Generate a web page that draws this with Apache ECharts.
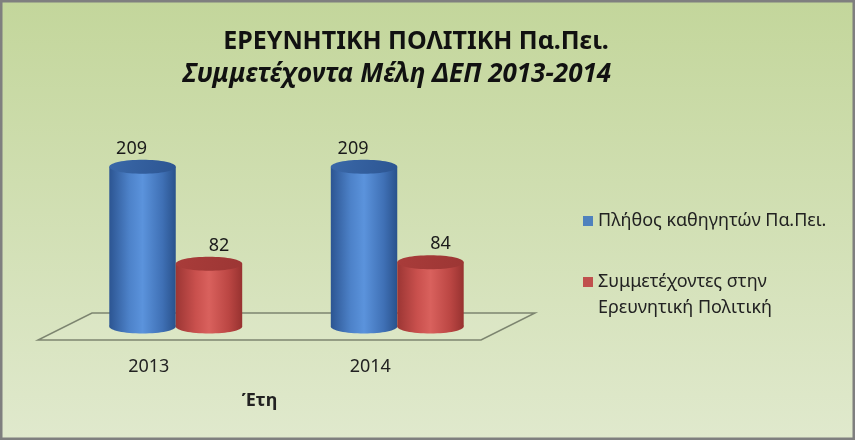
<!DOCTYPE html>
<html>
<head>
<meta charset="utf-8">
<script src="https://cdn.jsdelivr.net/npm/echarts@6/dist/echarts.min.js"></script>
<style>
html,body{margin:0;padding:0;background:#7f7f7f;}
#c{width:855px;height:440px;}
</style>
</head>
<body>
<div id="c"></div>
<script>
const categories = ['2013', '2014'];
const seriesNames = ['Πλήθος καθηγητών Πα.Πει.', 'Συμμετέχοντες στην Ερευνητική Πολιτική'];
const professors = [209, 209];
const participants = [82, 84];
const titleLine1 = 'ΕΡΕΥΝΗΤΙΚΗ ΠΟΛΙΤΙΚΗ Πα.Πει.';
const titleLine2 = 'Συμμετέχοντα Μέλη ΔΕΠ 2013-2014';
const axisName = 'Έτη';

const FONT = '"Noto Sans", "DejaVu Sans", sans-serif';
const DEPTH_X = 54, DEPTH_Y = 27;

const palettes = [
  {side: ['#2c5592', '#4d82c9', '#5b93dc', '#3f70b5', '#29528c'], top: '#3a68a8', label: -11},
  {side: ['#9c3634', '#c9504d', '#d9615d', '#bb4643', '#973230'], top: '#a93c3a', label: 10}
];

function sideGrad(p) {
  return new echarts.graphic.LinearGradient(0, 0, 1, 0, [
    {offset: 0, color: p.side[0]},
    {offset: 0.3, color: p.side[1]},
    {offset: 0.5, color: p.side[2]},
    {offset: 0.8, color: p.side[3]},
    {offset: 1, color: p.side[4]}
  ]);
}

function cylinder(params, api) {
  const cat = api.value(0), val = api.value(1);
  const base = api.coord([cat, 0]);
  const top = api.coord([cat, val]);
  const band = api.size([1, 0])[0];
  const w = band * 0.3;
  const p = palettes[params.seriesIndex - 1];
  const dir = params.seriesIndex === 1 ? -1 : 1;
  const cx = base[0] + DEPTH_X / 2 + dir * w / 2;
  const yb = base[1] - DEPTH_Y / 2;
  const yt = top[1] - DEPTH_Y / 2;
  const ry = 7;
  const g = sideGrad(p);
  return {
    type: 'group',
    children: [
      {type: 'ellipse', shape: {cx: cx, cy: yb, rx: w / 2, ry: ry}, style: {fill: g}},
      {type: 'rect', shape: {x: cx - w / 2, y: yt, width: w, height: yb - yt}, style: {fill: g}},
      {type: 'ellipse', shape: {cx: cx, cy: yt, rx: w / 2, ry: ry},
        style: {fill: new echarts.graphic.LinearGradient(0, 0, 1, 1, [
          {offset: 0, color: p.top}, {offset: 1, color: p.side[0]}])}},
      {type: 'text', x: cx + p.label, y: yt - ry - 11,
        style: {text: String(val), fill: '#1a1a1a', font: '18px ' + FONT, align: 'center', verticalAlign: 'middle'}}
    ]
  };
}

function floor(params, api) {
  const cs = params.coordSys;
  const x0 = cs.x, x1 = cs.x + cs.width, y = cs.y + cs.height;
  return {
    type: 'polygon',
    shape: {points: [[x0, y], [x1, y], [x1 + DEPTH_X, y - DEPTH_Y], [x0 + DEPTH_X, y - DEPTH_Y]]},
    style: {fill: 'rgba(255,255,255,0.08)', stroke: '#7d8570', lineWidth: 1.5},
    silent: true
  };
}

const chart = echarts.init(document.getElementById('c'), null, {renderer: 'canvas'});
chart.setOption({
  backgroundColor: new echarts.graphic.LinearGradient(0, 0, 0, 1, [
    {offset: 0, color: '#c3d69b'}, {offset: 1, color: '#e0e9cd'}]),
  animation: false,
  graphic: [{type: 'rect', shape: {x: 0, y: 0, width: 855, height: 440},
    style: {fill: 'none', stroke: '#7f7f7f', lineWidth: 5}, silent: true, z: 100}],
  title: [
    {text: titleLine1, left: 416, top: 26, textAlign: 'center', padding: 0,
      textStyle: {fontFamily: FONT, fontSize: 25, lineHeight: 32, fontWeight: 'bold', color: '#111'}},
    {text: titleLine2, left: 397, top: 59, textAlign: 'center', padding: 0,
      textStyle: {fontFamily: FONT, fontSize: 26, lineHeight: 32, fontWeight: 'bold', fontStyle: 'italic', color: '#111'}}
  ],
  legend: [
    {data: [seriesNames[0]], orient: 'vertical', left: 583, top: 208, padding: 0,
      itemWidth: 10, itemHeight: 10, icon: 'rect',
      textStyle: {fontFamily: FONT, fontSize: 18, color: '#222', lineHeight: 26}},
    {data: [seriesNames[1]], orient: 'vertical', left: 583, top: 243, padding: 0,
      itemWidth: 10, itemHeight: 10, icon: 'rect',
      formatter: function (n) { return '\n' + n.replace('στην ', 'στην\n'); },
      textStyle: {fontFamily: FONT, fontSize: 18, color: '#222', lineHeight: 26}}
  ],
  grid: {left: 38, right: 855 - 481, top: 149, bottom: 100},
  xAxis: {
    type: 'category', data: categories,
    axisLine: {show: false}, axisTick: {show: false},
    axisLabel: {fontFamily: FONT, fontSize: 18, color: '#222', margin: 18},
    name: axisName, nameLocation: 'middle', nameGap: 52,
    nameTextStyle: {fontFamily: FONT, fontSize: 18, fontWeight: 'bold', color: '#222'}
  },
  yAxis: {type: 'value', min: 0, max: 250, show: false, splitLine: {show: false}},
  series: [
    {type: 'custom', name: 'floor', renderItem: floor, data: [[0, 0]], z: 1, silent: true},
    {type: 'custom', name: seriesNames[0], renderItem: cylinder, itemStyle: {color: '#4f81bd'},
      encode: {x: 0, y: 1}, data: professors.map((v, i) => [i, v]), z: 2},
    {type: 'custom', name: seriesNames[1], renderItem: cylinder, itemStyle: {color: '#c0504d'},
      encode: {x: 0, y: 1}, data: participants.map((v, i) => [i, v]), z: 3}
  ]
});
</script>
</body>
</html>
